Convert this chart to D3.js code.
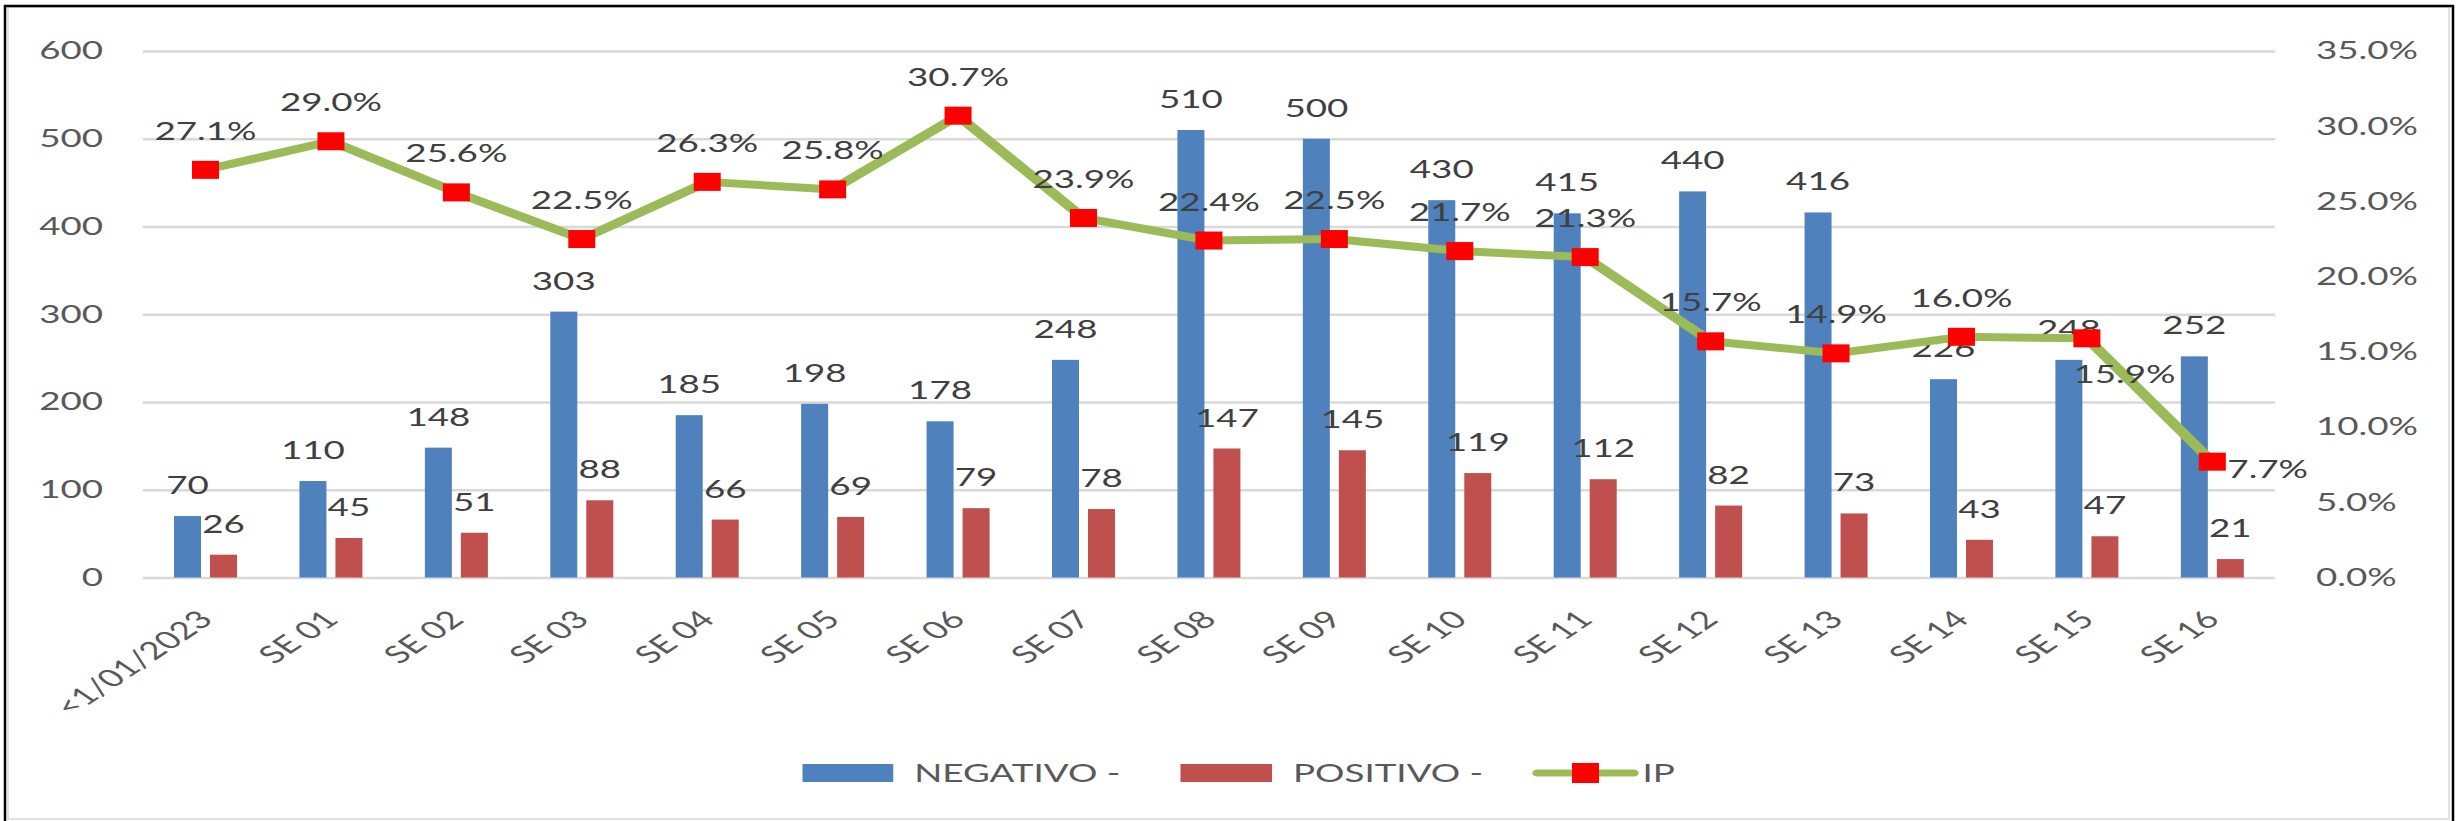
<!DOCTYPE html>
<html>
<head>
<meta charset="utf-8">
<script src="https://cdn.jsdelivr.net/npm/d3@7"></script>
<style>
  body { margin: 0; background: #ffffff; }
  svg { display: block; }
  text { font-family: Lato, "Open Sans", "Liberation Sans", sans-serif; }
</style>
</head>
<body>
<svg id="chart" width="2458" height="821"></svg>
<script>
// ---------------- data ----------------
const categories = ["<1/01/2023", "SE 01", "SE 02", "SE 03", "SE 04", "SE 05", "SE 06", "SE 07", "SE 08",
                    "SE 09", "SE 10", "SE 11", "SE 12", "SE 13", "SE 14", "SE 15", "SE 16"];
const negativo = [70, 110, 148, 303, 185, 198, 178, 248, 510, 500, 430, 415, 440, 416, 226, 248, 252];
const positivo = [26, 45, 51, 88, 66, 69, 79, 78, 147, 145, 119, 112, 82, 73, 43, 47, 21];
const ip = [0.271, 0.290, 0.256, 0.225, 0.263, 0.258, 0.307, 0.239, 0.224, 0.225, 0.217, 0.213, 0.157, 0.149, 0.160, 0.159, 0.077];
const leftTicks = [0, 100, 200, 300, 400, 500, 600];
const rightTicks = [0, 0.05, 0.10, 0.15, 0.20, 0.25, 0.30, 0.35];
const seriesNames = ["NEGATIVO -", "POSITIVO -", "IP"];
// label placement for the IP series (Excel-style positions)
const ipLabelPlacement = ["above", "above", "above", "above", "above", "above", "above", "above", "above",
                          "above", "above", "above", "above", "above", "above", "below", "right"];

// ---------------- layout ----------------
const W = 2458, H = 821;
const SX = 1.5;                 // the original picture is stretched horizontally
const IW = W / SX;              // inner (unstretched) width
const plotLeft = 95.2, plotRight = 1516.7, plotTop = 51, plotBottom = 577.5;
const C = { blue: "#4f81bd", red: "#c0504d", green: "#9bbb59", marker: "#ff0000",
            grid: "#d9d9d9", axisText: "#595959", label: "#404040" };
const FS = 24.5;

const svg = d3.select("#chart");
svg.append("rect").attr("width", W).attr("height", H).attr("fill", "#fff");

const g = svg.append("g").attr("transform", `scale(${SX},1)`);

const x = d3.scaleBand().domain(categories).range([plotLeft, plotRight]).paddingInner(0).paddingOuter(0);
const xs = d3.scaleBand().domain(["neg", "pos"]).range([-21, 21]).paddingInner(0.25);
const y = d3.scaleLinear().domain([0, 600]).range([plotBottom, plotTop]);
const y2 = d3.scaleLinear().domain([0, 0.35]).range([plotBottom, plotTop]);
const cx = c => x(c) + x.bandwidth() / 2;

// gridlines + left axis
const gl = g.append("g").attr("transform", `translate(${plotLeft},0)`)
  .call(d3.axisLeft(y).tickValues(leftTicks).tickSize(-(plotRight - plotLeft)).tickPadding(26.5).tickFormat(d3.format("d")));
gl.select(".domain").remove();
gl.selectAll(".tick line").attr("stroke", C.grid).attr("stroke-width", 2.5);
gl.selectAll(".tick text").attr("fill", C.axisText).style("font-size", FS + "px");

// right axis
const gr = g.append("g").attr("transform", `translate(${plotRight},0)`)
  .call(d3.axisRight(y2).tickValues(rightTicks).tickSize(0).tickPadding(27.3).tickFormat(d3.format(".1%")));
gr.select(".domain").remove();
gr.selectAll(".tick text").attr("fill", C.axisText).style("font-size", FS + "px");

// bottom axis (category labels)
const gb = g.append("g").attr("transform", `translate(0,${plotBottom})`)
  .call(d3.axisBottom(x).tickSize(0));
gb.select(".domain").remove();
gb.selectAll(".tick text")
  .attr("x", 0).attr("y", 0).attr("dy", "0.35em")
  .attr("transform", "translate(0,37.5) rotate(-45)")
  .style("text-anchor", "end")
  .attr("fill", C.axisText).style("font-size", FS + "px");

// bars
const rows = categories.map((c, i) => ({ c, neg: negativo[i], pos: positivo[i], ip: ip[i], place: ipLabelPlacement[i] }));
const bars = g.append("g");
bars.selectAll("rect.neg").data(rows).join("rect").attr("class", "neg")
  .attr("x", d => cx(d.c) + xs("neg")).attr("width", xs.bandwidth())
  .attr("y", d => y(d.neg)).attr("height", d => y(0) - y(d.neg)).attr("fill", C.blue);
bars.selectAll("rect.pos").data(rows).join("rect").attr("class", "pos")
  .attr("x", d => cx(d.c) + xs("pos")).attr("width", xs.bandwidth())
  .attr("y", d => y(d.pos)).attr("height", d => y(0) - y(d.pos)).attr("fill", C.red);

// bar labels
const bl = g.append("g").attr("fill", C.label).style("font-size", FS + "px").attr("text-anchor", "middle");
bl.selectAll("text.neg").data(rows).join("text").attr("class", "neg")
  .attr("x", d => cx(d.c) + xs("neg") + xs.bandwidth() / 2).attr("y", d => y(d.neg) - 22).text(d => d.neg);
bl.selectAll("text.pos").data(rows).join("text").attr("class", "pos")
  .attr("x", d => cx(d.c) + xs("pos") + xs.bandwidth() / 2).attr("y", d => y(d.pos) - 22).text(d => d.pos);

// IP line
const line = d3.line().x(d => cx(d.c)).y(d => y2(d.ip));
g.append("path").datum(rows).attr("d", line).attr("fill", "none")
  .attr("stroke", C.green).attr("stroke-width", 8).attr("stroke-linejoin", "round").attr("stroke-linecap", "round");
g.append("g").selectAll("rect").data(rows).join("rect")
  .attr("x", d => cx(d.c) - 9).attr("y", d => y2(d.ip) - 9).attr("width", 18).attr("height", 18).attr("fill", C.marker);

// IP labels
const fmtPct = d3.format(".1%");
g.append("g").attr("fill", C.label).style("font-size", FS + "px")
  .selectAll("text").data(rows).join("text")
  .attr("x", d => d.place === "right" ? cx(d.c) + 10 : d.place === "below" ? cx(d.c) + 25 : cx(d.c))
  .attr("y", d => d.place === "right" ? y2(d.ip) + 16 : d.place === "below" ? y2(d.ip) + 45 : y2(d.ip) - 30)
  .attr("text-anchor", d => d.place === "right" ? "start" : "middle")
  .text(d => fmtPct(d.ip));

// legend
const lg = g.append("g").style("font-size", FS + "px").attr("fill", C.axisText);
const ly = 773;
lg.append("rect").attr("x", 535).attr("y", ly - 9).attr("width", 60.5).attr("height", 18).attr("fill", C.blue);
lg.append("text").attr("x", 609.5).attr("y", ly + 9).text(seriesNames[0]);
lg.append("rect").attr("x", 787).attr("y", ly - 9).attr("width", 61).attr("height", 18).attr("fill", C.red);
lg.append("text").attr("x", 862).attr("y", ly + 9).text(seriesNames[1]);
lg.append("line").attr("x1", 1025).attr("x2", 1089).attr("y1", ly).attr("y2", ly)
  .attr("stroke", C.green).attr("stroke-width", 7).attr("stroke-linecap", "round");
lg.append("rect").attr("x", 1048).attr("y", ly - 10).attr("width", 18).attr("height", 20).attr("fill", C.marker);
lg.append("text").attr("x", 1095).attr("y", ly + 9).text(seriesNames[2]);

// frame (full coordinates)
svg.append("rect").attr("x", 8).attr("y", 7).attr("width", 2441).attr("height", 812)
  .attr("fill", "none").attr("stroke", C.grid).attr("stroke-width", 1.5);
svg.append("path").attr("d", `M5,${H + 2} L5,6 L2453,6 L2453,${H + 2}`)
  .attr("fill", "none").attr("stroke", "#000").attr("stroke-width", 2.5);
</script>
</body>
</html>
